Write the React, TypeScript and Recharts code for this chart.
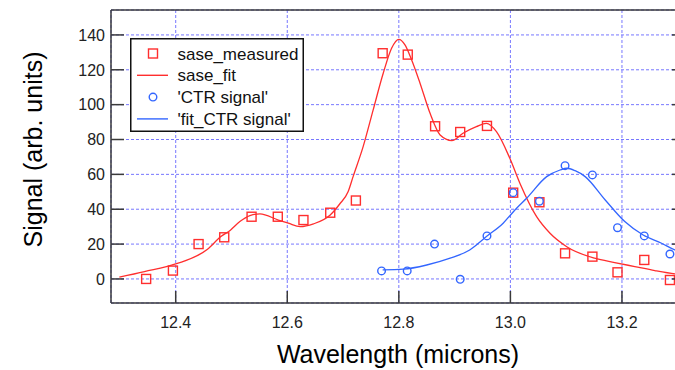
import { ComposedChart, Line, Scatter, XAxis, YAxis, CartesianGrid, Legend } from "recharts";

// sase measured points
const measuredX = [12.347, 12.395, 12.441, 12.487, 12.536, 12.583, 12.629, 12.677, 12.723, 12.771, 12.816, 12.865, 12.91, 12.958, 13.005, 13.052, 13.098, 13.147, 13.192, 13.24, 13.286];
const measuredY = [0, 4.8, 20, 23.9, 35.7, 35.7, 33.8, 38, 45, 129.5, 128.7, 87.6, 84.3, 87.8, 49.5, 44, 14.7, 12.8, 3.8, 10.9, -0.6];

// sase fit curve
const fitX = [12.299, 12.344, 12.4, 12.457, 12.481, 12.498, 12.515, 12.533, 12.551, 12.584, 12.602, 12.623, 12.647, 12.677, 12.694, 12.709, 12.718, 12.736, 12.754, 12.772, 12.787, 12.8, 12.811, 12.823, 12.838, 12.856, 12.874, 12.895, 12.915, 12.939, 12.957, 12.975, 12.999, 13.017, 13.047, 13.071, 13.101, 13.151, 13.187, 13.223, 13.259, 13.295, 13.313];
const fitY = [1.0, 4.2, 8.6, 17, 24.3, 28, 32.9, 36.3, 37.3, 33.8, 32, 30, 31.6, 36.7, 43, 50, 58.7, 75.9, 97, 118, 132.4, 137.5, 134.3, 125.6, 112.3, 95, 82.6, 79.4, 83.6, 87.4, 89.3, 84.5, 69.2, 54.9, 35.7, 26.2, 18.5, 11.9, 9.4, 7.1, 4.8, 2.9, 2.3];

// CTR signal points
const ctrX = [12.769, 12.815, 12.864, 12.91, 12.958, 13.005, 13.052, 13.098, 13.147, 13.192, 13.24, 13.286];
const ctrY = [4.6, 4.6, 20, -0.2, 24.7, 49.5, 44.6, 65, 59.7, 29.4, 24.7, 14.3];

// CTR fit curve
const ctrFitX = [12.771, 12.808, 12.85, 12.892, 12.927, 12.957, 12.987, 13.011, 13.029, 13.065, 13.089, 13.101, 13.116, 13.134, 13.17, 13.205, 13.238, 13.271, 13.295, 13.313];
const ctrFitY = [5.2, 5.6, 8, 11.9, 16.6, 24.3, 32, 40.6, 46.3, 58.7, 62.5, 63.5, 62.1, 58.7, 45.3, 32.9, 25.2, 20.5, 16.6, 14.5];

const xTicks = [12.4, 12.6, 12.8, 13.0, 13.2];
const yTicks = [0, 20, 40, 60, 80, 100, 120, 140];

const seriesNames = ["sase_measured", "sase_fit", "'CTR signal'", "'fit_CTR signal'"];

const toRows = (xs: number[], ys: number[]) => xs.map((x, i) => ({ x, y: ys[i] }));

const RED = "#ff2e2e";
const BLUE = "#3366ff";
const AXIS = "#3a3a3a";
const FONT = '"Liberation Sans", Arial, sans-serif';

function LeftTick({ x, y, payload }: any) {
  return (
    <g>
      <line x1={x + 6} x2={x + 19} y1={y} y2={y} stroke={AXIS} strokeWidth={1.5} />
      <text x={x} y={y} dy="0.36em" textAnchor="end" fontSize={16} fill="#222" fontFamily={FONT}>
        {payload.value}
      </text>
    </g>
  );
}

function BottomTick({ x, y, payload }: any) {
  return (
    <g>
      <line x1={x} x2={x} y1={y - 14} y2={y - 26} stroke={AXIS} strokeWidth={1.5} />
      <text x={x} y={y} dy="0.71em" textAnchor="middle" fontSize={16} fill="#222" fontFamily={FONT}>
        {Number(payload.value).toFixed(1)}
      </text>
    </g>
  );
}

function TopTick({ x, y }: any) {
  return <line x1={x} x2={x} y1={y} y2={y + 12} stroke={AXIS} strokeWidth={1.5} />;
}

function RightTick({ x, y }: any) {
  return <line x1={x - 13} x2={x} y1={y} y2={y} stroke={AXIS} strokeWidth={1.5} />;
}

const Square = ({ cx, cy }: any) => (
  <rect x={cx - 4.5} y={cy - 4.5} width={9} height={9} fill="none" stroke={RED} strokeWidth={1.4} />
);
const Circle = ({ cx, cy }: any) => (
  <circle cx={cx} cy={cy} r={3.8} fill="none" stroke={BLUE} strokeWidth={1.4} />
);

function LegendBox() {
  const kinds = ["square", "line", "circle", "line"];
  const colors = [RED, RED, BLUE, BLUE];
  return (
    <svg width={174} height={94} style={{ display: "block" }}>
      <rect x={0.75} y={0.75} width={172.5} height={92.5} fill="#fff" stroke="#111" strokeWidth={1.5} />
      {seriesNames.map((name, i) => {
        const cy = 15.5 + i * 21.8;
        const c = colors[i];
        return (
          <g key={name}>
            {kinds[i] === "square" && (
              <rect x={18.5} y={cy - 4.5} width={9} height={9} fill="none" stroke={c} strokeWidth={1.4} />
            )}
            {kinds[i] === "circle" && <circle cx={23} cy={cy} r={3.8} fill="none" stroke={c} strokeWidth={1.4} />}
            {kinds[i] === "line" && <line x1={7} x2={38} y1={cy} y2={cy} stroke={c} strokeWidth={1.4} />}
            <text x={47.5} y={cy} dy="0.36em" fontSize={17} fill="#111" fontFamily={FONT}>
              {name}
            </text>
          </g>
        );
      })}
    </svg>
  );
}

const XTitle = ({ viewBox }: any) => (
  <text
    x={viewBox.x + viewBox.width / 2}
    y={viewBox.y + 60}
    textAnchor="middle"
    fontSize={25}
    fill="#000"
    fontFamily={FONT}
  >
    Wavelength (microns)
  </text>
);

const YTitle = ({ viewBox }: any) => {
  const cx = 42;
  const cy = viewBox.y + viewBox.height / 2 - 7;
  return (
    <text
      x={cx}
      y={cy}
      transform={`rotate(-90 ${cx} ${cy})`}
      textAnchor="middle"
      fontSize={25}
      fill="#000"
      fontFamily={FONT}
    >
      Signal (arb. units)
    </text>
  );
};

export default function App() {
  const measured = toRows(measuredX, measuredY);
  const fit = toRows(fitX, fitY);
  const ctr = toRows(ctrX, ctrY);
  const ctrFit = toRows(ctrFitX, ctrFitY);
  const xDomain = [12.284, 13.313];
  const yDomain = [-13.8, 154.3];

  return (
    <div style={{ position: "absolute", left: 0, top: 0, width: 675, height: 370, overflow: "hidden", background: "#fff" }}>
      <ComposedChart width={686} height={370} margin={{ top: 9, right: 0, bottom: 0, left: 0 }}>
        <CartesianGrid stroke="#7777ff" strokeDasharray="3 2" strokeWidth={1} />
        <XAxis
          dataKey="x"
          type="number"
          domain={xDomain}
          ticks={xTicks}
          allowDataOverflow
          height={67}
          tickSize={0}
          tickMargin={14}
          tickLine={false}
          tick={<BottomTick />}
          axisLine={{ stroke: AXIS, strokeWidth: 1.5 }}
          label={<XTitle />}
        />
        <XAxis
          xAxisId="top"
          orientation="top"
          type="number"
          domain={xDomain}
          ticks={xTicks}
          allowDataOverflow
          height={1}
          tickSize={0}
          tickMargin={0}
          tickLine={false}
          tick={<TopTick />}
          axisLine={{ stroke: AXIS, strokeWidth: 1.5 }}
        />
        <YAxis
          dataKey="y"
          type="number"
          domain={yDomain}
          ticks={yTicks}
          allowDataOverflow
          width={111}
          tickSize={0}
          tickMargin={6}
          tickLine={false}
          tick={<LeftTick />}
          axisLine={{ stroke: AXIS, strokeWidth: 1.5 }}
          label={<YTitle />}
        />
        <YAxis
          yAxisId="right"
          orientation="right"
          type="number"
          domain={yDomain}
          ticks={yTicks}
          allowDataOverflow
          width={1}
          tickSize={0}
          tickMargin={0}
          tickLine={false}
          tick={<RightTick />}
          axisLine={false}
        />
        <Legend
          layout="vertical"
          align="center"
          verticalAlign="middle"
          wrapperStyle={{ left: 130, top: 38, width: 174, height: 94 }}
          content={<LegendBox />}
        />
        <Line
          data={fit}
          dataKey="y"
          name={seriesNames[1]}
          type="monotone"
          stroke={RED}
          strokeWidth={1.3}
          dot={false}
          isAnimationActive={false}
        />
        <Scatter data={measured} dataKey="y" name={seriesNames[0]} shape={<Square />} isAnimationActive={false} />
        <Line
          data={ctrFit}
          dataKey="y"
          name={seriesNames[3]}
          type="monotone"
          stroke={BLUE}
          strokeWidth={1.3}
          dot={false}
          isAnimationActive={false}
        />
        <Scatter data={ctr} dataKey="y" name={seriesNames[2]} shape={<Circle />} isAnimationActive={false} />
      </ComposedChart>
    </div>
  );
}
